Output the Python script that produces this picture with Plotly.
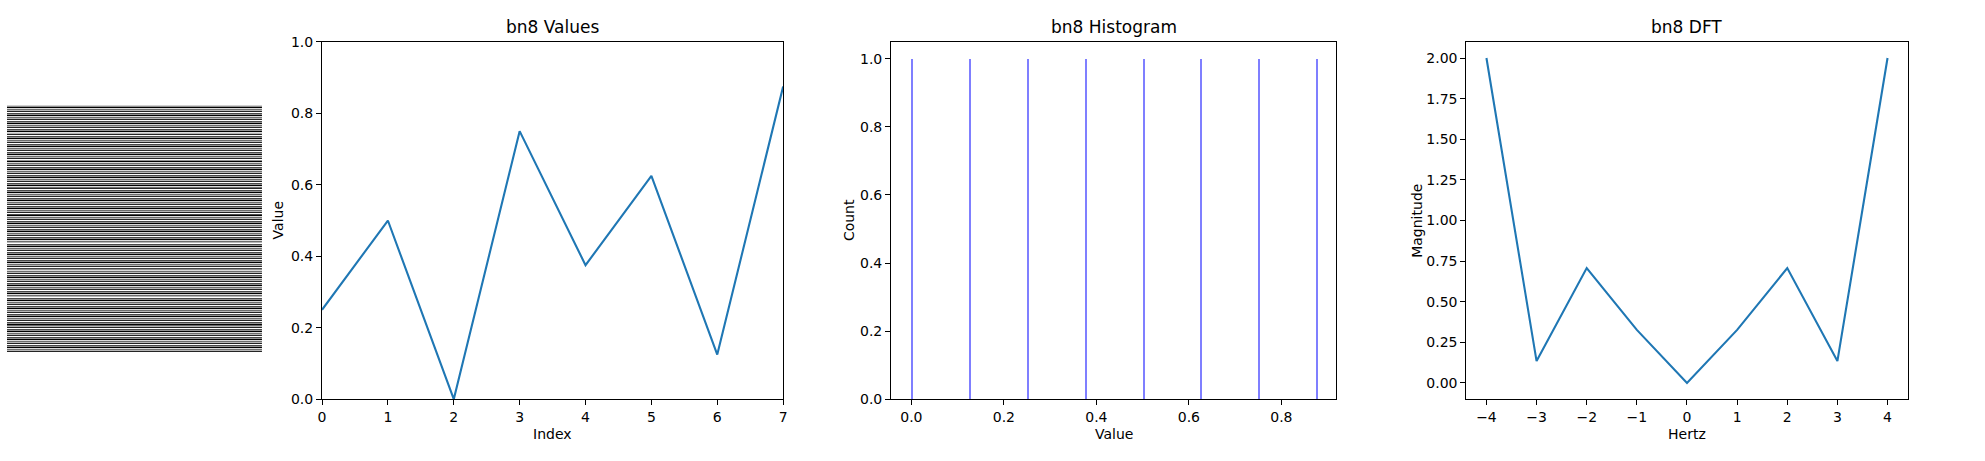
import plotly.graph_objects as go

W, H = 1985, 461

# ---- data ----
bn8_index = [0, 1, 2, 3, 4, 5, 6, 7]
bn8_values = [0.25, 0.5, 0.0, 0.75, 0.375, 0.625, 0.125, 0.875]
hist_counts = [1, 1, 1, 1, 1, 1, 1, 1]
dft_hertz = [-4, -3, -2, -1, 0, 1, 2, 3, 4]
dft_magnitude = [2.0, 0.135, 0.707, 0.327, 0.0, 0.327, 0.707, 0.135, 2.0]
image_rows = 256
image_cols = 256

FONT = "DejaVu Sans"
BLUE = "#1f77b4"


def px_x(p):
    return p / W


def px_y(p):
    return 1 - p / H


# axes boxes in pixels (left, right, top, bottom)
box1 = (319.3, 782.3, 35, 405.3)
box2 = (890.7, 1337.7, 35, 405.3)
box3 = (1468.3, 1911.3, 35, 405.3)
box_img = (3, 259, 101, 357)

fig = go.Figure()

# image (tiled stripes)
z = [[bn8_values[r % 8]] * image_cols for r in range(image_rows)]
fig.add_trace(go.Heatmap(
    z=z, colorscale=[[0, "black"], [1, "white"]],
    zmin=min(bn8_values), zmax=max(bn8_values), showscale=False,
    xaxis="x4", yaxis="y4", hoverinfo="skip"))

# values line
fig.add_trace(go.Scatter(x=bn8_index, y=bn8_values, mode="lines",
                         line=dict(color=BLUE, width=2.1),
                         xaxis="x", yaxis="y", showlegend=False))

# histogram
bw = 0.0043
fig.add_trace(go.Bar(x=bn8_values, y=hist_counts, width=bw, offset=0,
                     marker=dict(color="rgba(0,0,255,0.5)", line=dict(width=0)),
                     xaxis="x2", yaxis="y2", showlegend=False))

# DFT
fig.add_trace(go.Scatter(x=dft_hertz, y=dft_magnitude, mode="lines",
                         line=dict(color=BLUE, width=2.1),
                         xaxis="x3", yaxis="y3", showlegend=False))

axis_common = dict(showline=True, mirror=True, linecolor="black", linewidth=1.1,
                   ticks="outside", ticklen=5, tickwidth=1.1, tickcolor="black",
                   showgrid=False, zeroline=False,
                   tickfont=dict(family=FONT, size=14, color="black"))


def dom(b):
    return [px_x(b[0]), px_x(b[1])], [px_y(b[3]), px_y(b[2])]


dx1, dy1 = dom(box1)
dx2, dy2 = dom(box2)
dx3, dy3 = dom(box3)
dx4, dy4 = dom(box_img)

fig.update_layout(
    width=W, height=H, margin=dict(l=0, r=0, t=0, b=0),
    paper_bgcolor="white", plot_bgcolor="white", showlegend=False,
    bargap=0,
    xaxis=dict(domain=dx1, anchor="y", range=[0, 7], tickvals=list(range(8)),
               **axis_common),
    yaxis=dict(domain=dy1, anchor="x", range=[0, 1],
               tickvals=[0, 0.2, 0.4, 0.6, 0.8, 1.0],
               ticktext=["0.0", "0.2", "0.4", "0.6", "0.8", "1.0"], **axis_common),
    xaxis2=dict(domain=dx2, anchor="y2", range=[-0.04375, 0.91875],
                tickvals=[0, 0.2, 0.4, 0.6, 0.8],
                ticktext=["0.0", "0.2", "0.4", "0.6", "0.8"], **axis_common),
    yaxis2=dict(domain=dy2, anchor="x2", range=[0, 1.05],
                tickvals=[0, 0.2, 0.4, 0.6, 0.8, 1.0],
                ticktext=["0.0", "0.2", "0.4", "0.6", "0.8", "1.0"], **axis_common),
    xaxis3=dict(domain=dx3, anchor="y3", range=[-4.4, 4.4],
                tickvals=dft_hertz,
                ticktext=[("\u2212" + str(-h)) if h < 0 else str(h) for h in dft_hertz],
                **axis_common),
    yaxis3=dict(domain=dy3, anchor="x3", range=[-0.1, 2.1],
                tickvals=[0, 0.25, 0.5, 0.75, 1.0, 1.25, 1.5, 1.75, 2.0],
                ticktext=["0.00", "0.25", "0.50", "0.75", "1.00", "1.25", "1.50",
                          "1.75", "2.00"], **axis_common),
    xaxis4=dict(domain=dx4, anchor="y4", range=[-0.5, image_cols - 0.5],
                visible=False),
    yaxis4=dict(domain=dy4, anchor="x4", range=[image_rows - 0.5, -0.5],
                visible=False),
)

anns = []


def add_text(text, x, y, size, angle=0):
    anns.append(dict(text=text, x=px_x(x), y=px_y(y), xref="paper", yref="paper",
                     showarrow=False, xanchor="center", yanchor="middle",
                     textangle=angle,
                     font=dict(family=FONT, size=size, color="black")))


for b, title, xl, yl, ylx in [
    (box1, "bn8 Values", "Index", "Value", 277),
    (box2, "bn8 Histogram", "Value", "Count", 850),
    (box3, "bn8 DFT", "Hertz", "Magnitude", 1420),
]:
    cx = (b[0] + b[1]) / 2
    add_text(title, cx, 20, 17)
    add_text(xl, cx, 441, 14)
    add_text(yl, ylx - 2, (b[2] + b[3]) / 2, 14, angle=-90)

fig.update_layout(annotations=anns)

fig.write_html("out.html",
               config={"displayModeBar": False},
               post_script="document.body.style.margin='0';"
                           "document.body.style.overflow='hidden';")
